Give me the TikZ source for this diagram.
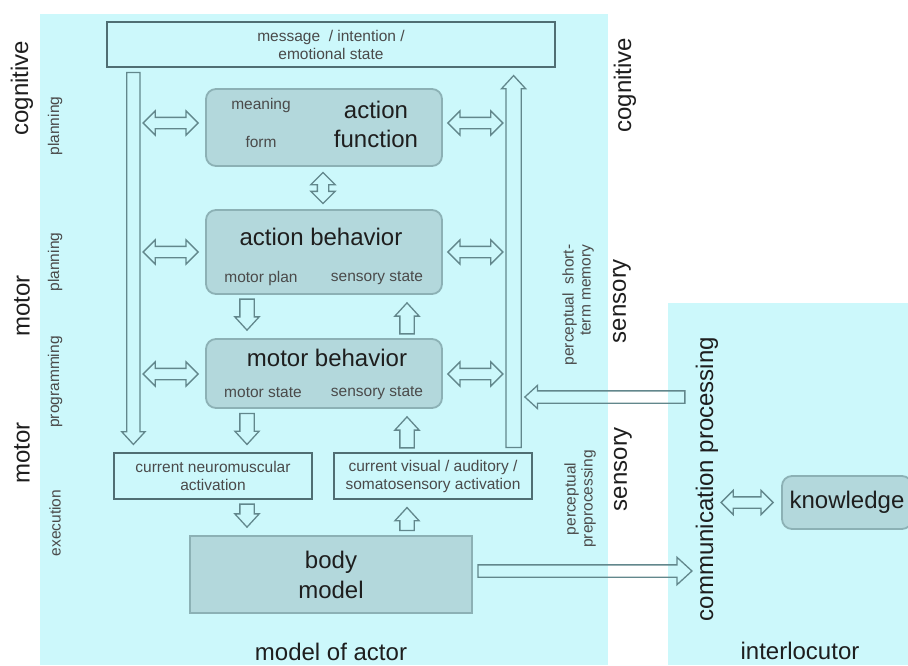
\documentclass[tikz,border=0pt]{standalone}
\usepackage{fontspec}
\setmainfont{Liberation Sans}
\usepackage{tikz}
\usetikzlibrary{positioning, calc, shapes.arrows}

\definecolor{panelblue}{HTML}{CCF8FB}
\definecolor{boxfill}{HTML}{B3D8DC}
\definecolor{boxline}{HTML}{8CB1B5}
\definecolor{arrline}{HTML}{62878C}
\definecolor{frameline}{HTML}{4F6E73}
\definecolor{smalltext}{HTML}{4A4A4A}
\definecolor{bigtext}{HTML}{1E1E1E}

\begin{document}
\begin{tikzpicture}[x=1pt, y=-1pt,
  big/.style={font=\fontsize{24}{29}\selectfont, text=bigtext, inner sep=0pt},
  small/.style={font=\fontsize{15.5}{18}\selectfont, text=smalltext, inner sep=0pt},
  box/.style={draw=boxline, fill=boxfill, line width=1.8pt, rounded corners=10pt},
  frame/.style={draw=frameline, line width=1.2pt, inner sep=0pt},
  sarr/.style={single arrow, draw=arrline, line width=1.3pt, inner sep=6.5pt,
    single arrow tip angle=85, single arrow head extend=5pt, anchor=tip},
  darr/.style={double arrow, draw=arrline, line width=1.3pt, inner sep=5pt,
    double arrow tip angle=90, double arrow head extend=6.5pt,
    minimum height=55pt}
]
  \useasboundingbox (0,0) rectangle (908,665);

  % panels
  \fill[panelblue] (40,14) rectangle (608,665);
  \fill[panelblue] (668,303) rectangle (908,665);

  % boxes of the actor model
  \node[frame, minimum width=448, minimum height=45, small, align=center] (msg) at (331,44.5)
    {message \ / intention /\\emotional state};
  \node[box, minimum width=236, minimum height=77] (af) at (324,127.5) {};
  \node[box, minimum width=236, minimum height=84] (ab) at (324,252) {};
  \node[box, minimum width=236, minimum height=69] (mb) at (324,373.5) {};
  \node[frame, minimum width=198, minimum height=46, small, align=center] (nm) at (213,476)
    {current neuromuscular\\activation};
  \node[frame, minimum width=198, minimum height=46, small, align=center] (vis) at (433,476)
    {current visual / auditory /\\somatosensory activation};
  \node[box, rounded corners=0pt, minimum width=282, minimum height=77, big, align=center] (body) at (331,574.5)
    {body\\[1pt]model};

  % texts inside the boxes
  \node[small] (meaning) at ($(af)+(-63,-22.5)$) {meaning};
  \node[small] (form) at ($(af)+(-63,14.5)$) {form};
  \node[big, align=center] (actfun) at ($(af)+(52,-3.5)$) {action\\function};
  \node[big] (actbeh) at ($(ab)+(-3,-15)$) {action behavior};
  \node[small] (motplan) at ($(ab)+(-63,26)$) {motor plan};
  \node[small] (sensab) at ($(ab)+(53,26)$) {sensory state};
  \node[big] (motbeh) at ($(mb)+(3,-15.5)$) {motor behavior};
  \node[small] (motstate) at ($(mb)+(-61,19.5)$) {motor state};
  \node[small] (sensmb) at ($(mb)+(53,19.5)$) {sensory state};

  % interlocutor
  \node[big, rotate=90] (comm) at (707,479) {communication processing};
  \node[box, minimum width=130, minimum height=53, big] (know) at (847,502.5) {knowledge};

  % side labels
  \node[big, rotate=90] (cogL) at (22,88) {cognitive};
  \node[big, rotate=90] (motL1) at (22,306) {motor};
  \node[big, rotate=90] (motL2) at (22,453) {motor};
  \node[small, rotate=90] (plan1) at (55,126) {planning};
  \node[small, rotate=90] (plan2) at (55,262) {planning};
  \node[small, rotate=90] (prog) at (55,382) {programming};
  \node[small, rotate=90] (exec) at (55,523) {execution};
  \node[big, rotate=90] (cogR) at (625,85) {cognitive};
  \node[big, rotate=90] (sensR1) at (622,301) {sensory};
  \node[big, rotate=90] (sensR2) at (623,469) {sensory};
  \node[small, rotate=90, align=right, font=\fontsize{15.5}{17}\selectfont] (stm) at (578,305)
    {perceptual \ short-\\term memory};
  \node[small, rotate=90, align=center, font=\fontsize{15.5}{17}\selectfont] (prepro) at (580,499)
    {perceptual\\preprocessing};
  \node[big, anchor=base] (actor) at (331,660.5) {model of actor};
  \node[big, anchor=base] (inter) at (800,659) {interlocutor};

  % long arrows
  \node[sarr, shape border rotate=270, minimum height=372, inner sep=6pt] (down)
    at ($(nm.north west)+(20,-7)$) {};
  \node[sarr, shape border rotate=90, minimum height=372, inner sep=7pt,
    single arrow head extend=4.5pt] (up) at ($(msg.south east)+(-42,7)$) {};

  % double arrows
  \node[darr] (dal) at ($(af.west)+(-34.5,-4.5)$) {};
  \node[darr] (dar) at ($(af.east)+(32.5,-4.5)$) {};
  \node[darr] (dbl) at ($(ab.west)+(-34.5,0)$) {};
  \node[darr] (dbr) at ($(ab.east)+(32.5,0)$) {};
  \node[darr] (dml) at ($(mb.west)+(-34.5,0.5)$) {};
  \node[darr] (dmr) at ($(mb.east)+(32.5,0.5)$) {};
  \node[darr, shape border rotate=90, minimum height=31] (dfb)
    at ($(af.south)!0.5!(ab.north)+(-1,0)$) {};
  \node[darr, minimum height=52] (dck) at ($(know.west)+(-34,0)$) {};

  % single arrows between levels
  \node[sarr, shape border rotate=270, minimum height=31] (a1) at ($(mb.north)+(-77,-7)$) {};
  \node[sarr, shape border rotate=90, minimum height=31] (a2) at ($(ab.south)+(83,7)$) {};
  \node[sarr, shape border rotate=270, minimum height=31] (a3) at ($(nm.north)+(34,-7)$) {};
  \node[sarr, shape border rotate=90, minimum height=31] (a4) at ($(mb.south)+(83,7)$) {};
  \node[sarr, shape border rotate=270, minimum height=23] (a5) at ($(body.north)+(-84,-7)$) {};
  \node[sarr, shape border rotate=90, minimum height=23] (a6) at ($(vis.south)+(-26,7)$) {};

  % arrows to and from the interlocutor
  \node[sarr, minimum height=214, inner sep=5.5pt,
    single arrow head extend=7.5pt] (tocomm) at ($(body.east)+(220,-3.5)$) {};
  \node[sarr, shape border rotate=180, minimum height=160, inner sep=5.5pt,
    single arrow head extend=5.5pt] (fromcomm) at ($(mb.east)+(81,23.5)$) {};
\end{tikzpicture}
\end{document}
